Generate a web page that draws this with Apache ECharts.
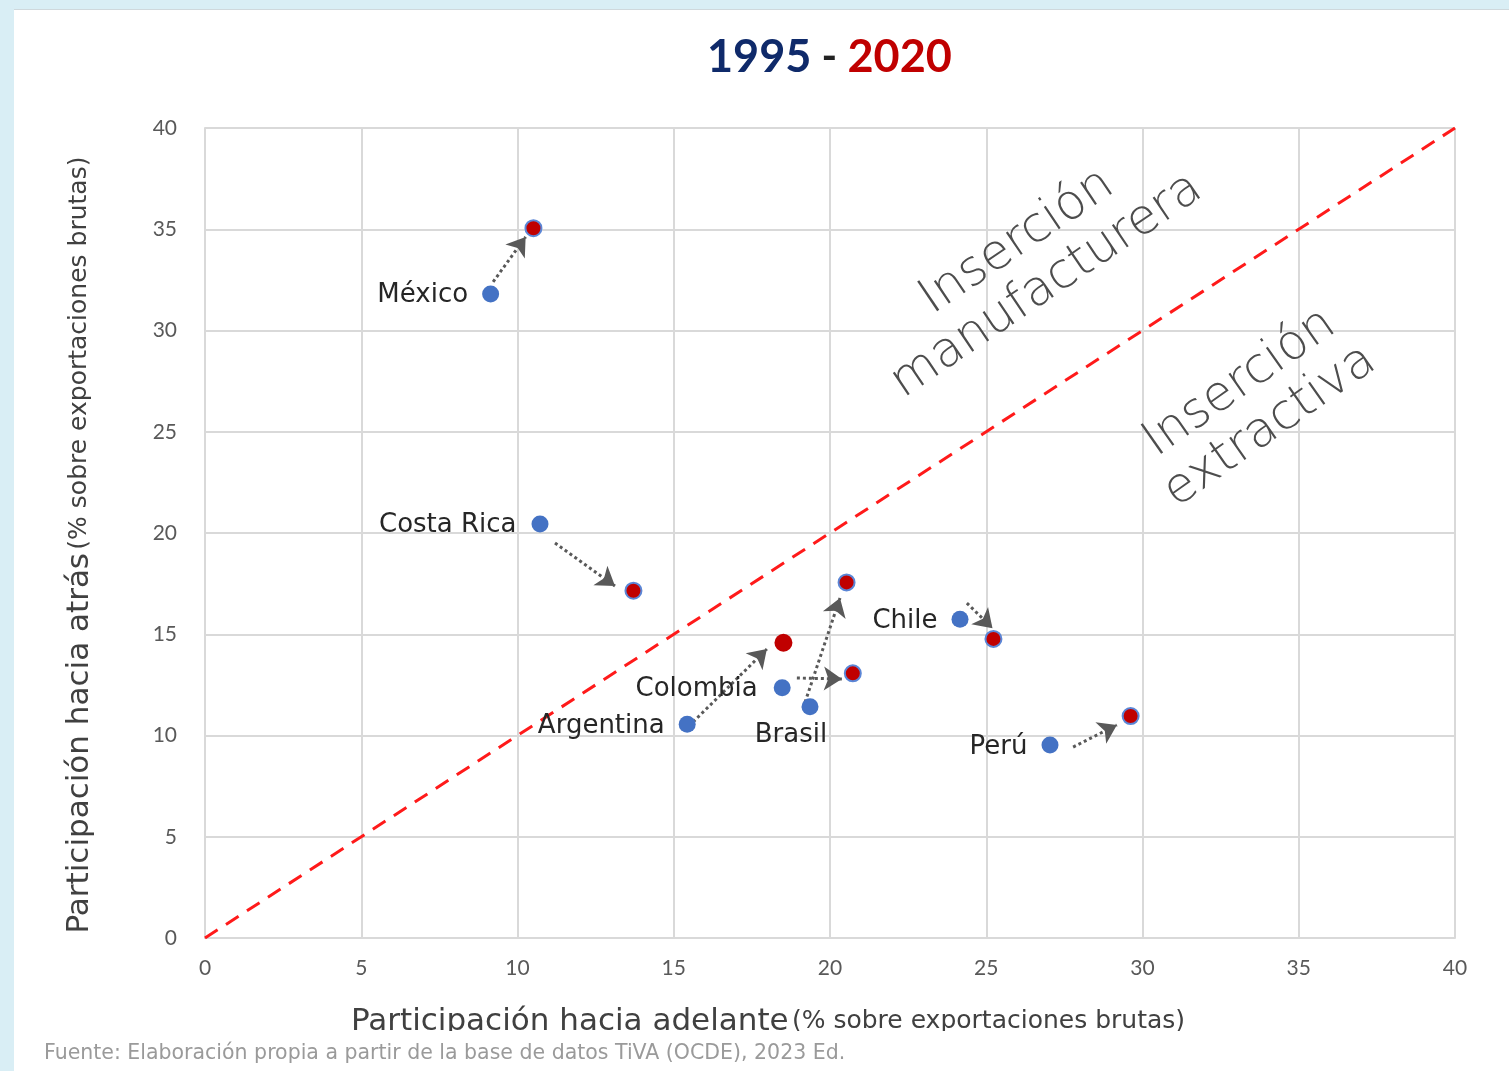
<!DOCTYPE html>
<html>
<head>
<meta charset="utf-8">
<script src="https://cdn.jsdelivr.net/npm/echarts@6/dist/echarts.min.js"></script>
<style>
  html, body { margin: 0; padding: 0; background: #fff; }
  #chart { width: 1509px; height: 1071px; }
</style>
</head>
<body>
<div id="chart"></div>
<script>
// datos
var paises = ['México', 'Costa Rica', 'Argentina', 'Colombia', 'Brasil', 'Chile', 'Perú']
var adelante1995 = [9.14, 10.72, 15.43, 18.47, 19.36, 24.16, 27.04]
var atras1995 = [31.8, 20.44, 10.55, 12.36, 11.42, 15.74, 9.53]
var adelante2020 = [10.51, 13.71, 18.51, 20.73, 20.53, 25.23, 29.62]
var atras2020 = [35.05, 17.15, 14.58, 13.07, 17.56, 14.77, 10.96]
// flechas (inicio y punta), en unidades de los ejes
var flechaDesde = [[9.22, 32.4], [11.2, 19.51], [15.62, 10.67], [18.94, 12.84], [19.14, 11.36], [24.38, 16.54], [27.78, 9.43]]
var flechaHasta = [[10.26, 34.62], [13.12, 17.38], [17.98, 14.27], [20.38, 12.79], [20.32, 16.79], [25.2, 15.3], [29.18, 10.52]]
var diagonal = [[0, 0], [40, 40]]
var ticksEje = { min: 0, max: 40, interval: 5 }

// posicion de etiquetas de cada pais
var posEtiqueta = {
  'México': { position: 'left', distance: 14, offset: [0, 1] },
  'Costa Rica': { position: 'left', distance: 15, offset: [0, 1] },
  'Argentina': { position: 'left', distance: 14, offset: [0, 2] },
  'Colombia': { position: 'left', distance: 16, offset: [0, 2] },
  'Brasil': { position: 'bottom', distance: 4, offset: [-19, 3] },
  'Chile': { position: 'left', distance: 14, offset: [0, 2] },
  'Perú': { position: 'left', distance: 14, offset: [0, 2] }
}

var datos1995 = paises.map(function(p, i) {
  return { name: p, value: [adelante1995[i], atras1995[i]], label: posEtiqueta[p] }
})
var datos2020 = paises.map(function(p, i) {
  var d = { name: p, value: [adelante2020[i], atras2020[i]] }
  if (p === 'Argentina') {
    d.symbolSize = 18
    d.itemStyle = { borderWidth: 0 }
  }
  return d
})
var flechas = paises.map(function(p, i) {
  return { coords: [flechaDesde[i], flechaHasta[i]] }
})

var myChart = echarts.init(document.getElementById('chart'))

var gris = '#d9d9d9'
var nombreEje = {
  m: { fontFamily: 'DejaVu Sans', fontSize: 31, color: '#404040' },
  s: { fontFamily: 'DejaVu Sans', fontSize: 25, color: '#404040' }
}
var option = {
  backgroundColor: '#fff',
  animation: false,
  title: {
    text: '{a|1995}{b| - }{c|2020}',
    left: 702,
    top: 30,
    textStyle: {
      rich: {
        a: { fontFamily: 'Lato', fontWeight: 'bold', fontSize: 45, color: '#0f2a6a' },
        b: { fontFamily: 'Lato', fontWeight: 'bold', fontSize: 42, color: '#222' },
        c: { fontFamily: 'Lato', fontWeight: 'bold', fontSize: 45, color: '#c00000' }
      }
    }
  },
  grid: {
    left: 205,
    right: 54,
    top: 128,
    bottom: 133
  },
  xAxis: {
    type: 'value',
    min: ticksEje.min,
    max: ticksEje.max,
    interval: ticksEje.interval,
    name: '{m|Participación hacia adelante} {s|(% sobre exportaciones brutas)}',
    nameLocation: 'middle',
    nameGap: 68,
    nameTextStyle: {
      padding: [0, 124, 0, 0],
      rich: nombreEje
    },
    axisLine: { lineStyle: { color: gris, width: 2 } },
    axisTick: { show: false },
    axisLabel: { margin: 20, fontFamily: 'Lato', fontSize: 21, color: '#595959' },
    splitLine: { lineStyle: { color: gris, width: 2 } }
  },
  yAxis: {
    type: 'value',
    min: ticksEje.min,
    max: ticksEje.max,
    interval: ticksEje.interval,
    name: '{m|Participación hacia atrás} {s|(% sobre exportaciones brutas)}',
    nameLocation: 'middle',
    nameGap: 110,
    nameTextStyle: {
      padding: [0, 24, 0, 0],
      rich: nombreEje
    },
    axisLine: { show: true, lineStyle: { color: gris, width: 2 } },
    axisTick: { show: false },
    axisLabel: { margin: 28, fontFamily: 'Lato', fontSize: 21, color: '#595959' },
    splitLine: { lineStyle: { color: gris, width: 2 } }
  },
  series: [
    {
      name: 'diagonal',
      type: 'line',
      data: diagonal,
      symbol: 'none',
      silent: true,
      lineStyle: { color: '#ff1a1a', width: 3, type: [15, 10] },
      z: 2
    },
    {
      name: 'flechas',
      type: 'lines',
      coordinateSystem: 'cartesian2d',
      data: flechas,
      symbol: ['none', 'arrow'],
      symbolSize: 18,
      lineStyle: { color: '#595959', width: 3, type: [3, 3], opacity: 1 },
      z: 3
    },
    {
      name: '1995',
      type: 'scatter',
      data: datos1995,
      symbolSize: 17,
      itemStyle: { color: '#4472c4', opacity: 1 },
      label: {
        show: true,
        formatter: '{b}',
        fontFamily: 'DejaVu Sans',
        fontSize: 26,
        color: '#262626'
      },
      z: 4
    },
    {
      name: '2020',
      type: 'scatter',
      data: datos2020,
      symbolSize: 16,
      itemStyle: { color: '#c00000', borderColor: '#5b86d6', borderWidth: 2, opacity: 1 },
      z: 5
    }
  ],
  graphic: [
    { type: 'rect', shape: { x: 0, y: 0, width: 1509, height: 9 }, style: { fill: '#d9eef5' }, z: 100 },
    { type: 'rect', shape: { x: 0, y: 9, width: 1509, height: 1 }, style: { fill: '#cfd8dc' }, z: 100 },
    { type: 'rect', shape: { x: 0, y: 0, width: 14, height: 1071 }, style: { fill: '#d9eef5' }, z: 101 },
    {
      type: 'text',
      x: 1032,
      y: 264,
      rotation: 34 * Math.PI / 180,
      style: {
        text: 'Inserción\nmanufacturera',
        fontFamily: 'DejaVu Sans',
        fontWeight: 200,
        fontSize: 49,
        lineHeight: 53,
        fill: '#4d4d4d',
        align: 'center',
        verticalAlign: 'middle'
      },
      z: 10
    },
    {
      type: 'text',
      x: 1255,
      y: 405,
      rotation: 35 * Math.PI / 180,
      style: {
        text: 'Inserción\nextractiva',
        fontFamily: 'DejaVu Sans',
        fontWeight: 200,
        fontSize: 49,
        lineHeight: 53,
        fill: '#4d4d4d',
        align: 'center',
        verticalAlign: 'middle'
      },
      z: 10
    },
    { type: 'rect', shape: { x: 14, y: 1031, width: 1495, height: 40 }, style: { fill: '#fff' }, z: 99 },
    {
      type: 'text',
      x: 44,
      y: 1054,
      style: {
        text: 'Fuente: Elaboración propia a partir de la base de datos TiVA (OCDE), 2023 Ed.',
        fontFamily: 'DejaVu Sans',
        fontSize: 20.5,
        fill: '#9a9a9a',
        verticalAlign: 'middle'
      },
      z: 100
    }
  ]
}

myChart.setOption(option)
window.addEventListener('resize', () => { myChart.resize() })
</script>
</body>
</html>
